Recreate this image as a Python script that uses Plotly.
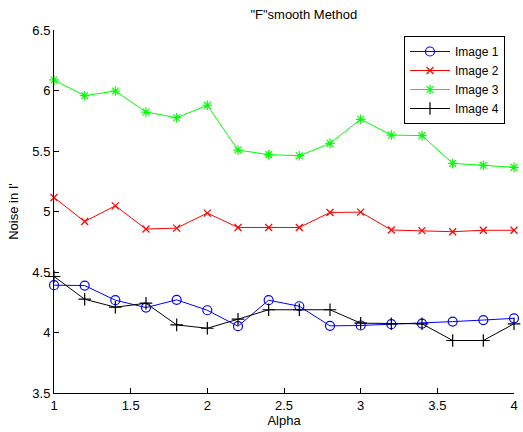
import plotly.graph_objects as go

alpha = [1.0, 1.2, 1.4, 1.6, 1.8, 2.0, 2.2, 2.4, 2.6, 2.8, 3.0, 3.2, 3.4, 3.6, 3.8, 4.0]

image1 = [4.391, 4.388, 4.267, 4.206, 4.270, 4.184, 4.052, 4.267, 4.217, 4.055, 4.058, 4.069, 4.074, 4.090, 4.103, 4.117]
image2 = [5.116, 4.917, 5.047, 4.855, 4.863, 4.987, 4.868, 4.868, 4.868, 4.992, 4.995, 4.847, 4.842, 4.833, 4.845, 4.845]
image3 = [6.087, 5.957, 5.996, 5.822, 5.775, 5.878, 5.508, 5.470, 5.461, 5.563, 5.762, 5.632, 5.627, 5.398, 5.382, 5.365]
image4 = [4.463, 4.275, 4.209, 4.242, 4.063, 4.035, 4.110, 4.188, 4.188, 4.188, 4.077, 4.072, 4.072, 3.934, 3.934, 4.072]

series_names = ["Image 1", "Image 2", "Image 3", "Image 4"]
x_ticks = [1, 1.5, 2, 2.5, 3, 3.5, 4]
x_tick_text = ["1", "1.5", "2", "2.5", "3", "3.5", "4"]
y_ticks = [3.5, 4, 4.5, 5, 5.5, 6, 6.5]
y_tick_text = ["3.5", "4", "4.5", "5", "5.5", "6", "6.5"]

FONT = "Liberation Sans"

styles = [
    dict(color="#0000ff", symbol="circle-open", size=9),
    dict(color="#ff0000", symbol="x-thin-open", size=7),
    dict(color="#00ff00", symbol="asterisk-open", size=8),
    dict(color="#000000", symbol="cross-thin-open", size=9),
]

fig = go.Figure()
for name, ys, st in zip(series_names, [image1, image2, image3, image4], styles):
    fig.add_trace(go.Scatter(
        x=alpha, y=ys, name=name, mode="lines+markers", cliponaxis=False,
        line=dict(color=st["color"], width=1),
        marker=dict(symbol=st["symbol"], size=st["size"], color=st["color"],
                    line=dict(color=st["color"], width=1.2)),
    ))

fig.update_layout(
    width=523, height=432,
    margin=dict(l=54, r=9, t=30, b=39, pad=0),
    paper_bgcolor="white", plot_bgcolor="white",
    font=dict(family=FONT, size=13, color="#000000"),
    title=dict(text='"F"smooth Method', x=(284 / 523), xanchor="center",
               xref="paper", y=1 - 14 / 432, yanchor="middle",
               font=dict(family=FONT, size=13, color="#000000")),
    showlegend=True,
    legend=dict(x=(404 - 54) / 460, y=(393 - 36) / 363, xanchor="left", yanchor="top",
                bgcolor="white", bordercolor="#000000", borderwidth=1,
                font=dict(family=FONT, size=12, color="#000000"),
                tracegroupgap=0, itemwidth=40),
)

fig.update_xaxes(
    range=[1, 4], tickvals=x_ticks, ticktext=x_tick_text, automargin=False,
    showgrid=False, zeroline=False, showline=True, linecolor="#000000", linewidth=1,
    ticks="inside", ticklen=5, tickcolor="#000000", mirror=False,
    title=dict(text="Alpha", standoff=4, font=dict(family=FONT, size=13)),
    tickfont=dict(family=FONT, size=13),
)
fig.update_yaxes(
    range=[3.5, 6.5], tickvals=y_ticks, ticktext=y_tick_text, automargin=False,
    showgrid=False, zeroline=False, showline=True, linecolor="#000000", linewidth=1,
    ticks="inside", ticklen=5, tickcolor="#000000", mirror=False,
    title=dict(text="Noise in I'", standoff=10, font=dict(family=FONT, size=13)),
    tickfont=dict(family=FONT, size=13),
)

fig.write_html(
    "out.html",
    config={"displayModeBar": False},
    post_script="document.body.style.margin='0';document.body.style.padding='0';document.body.style.overflow='hidden';",
)
